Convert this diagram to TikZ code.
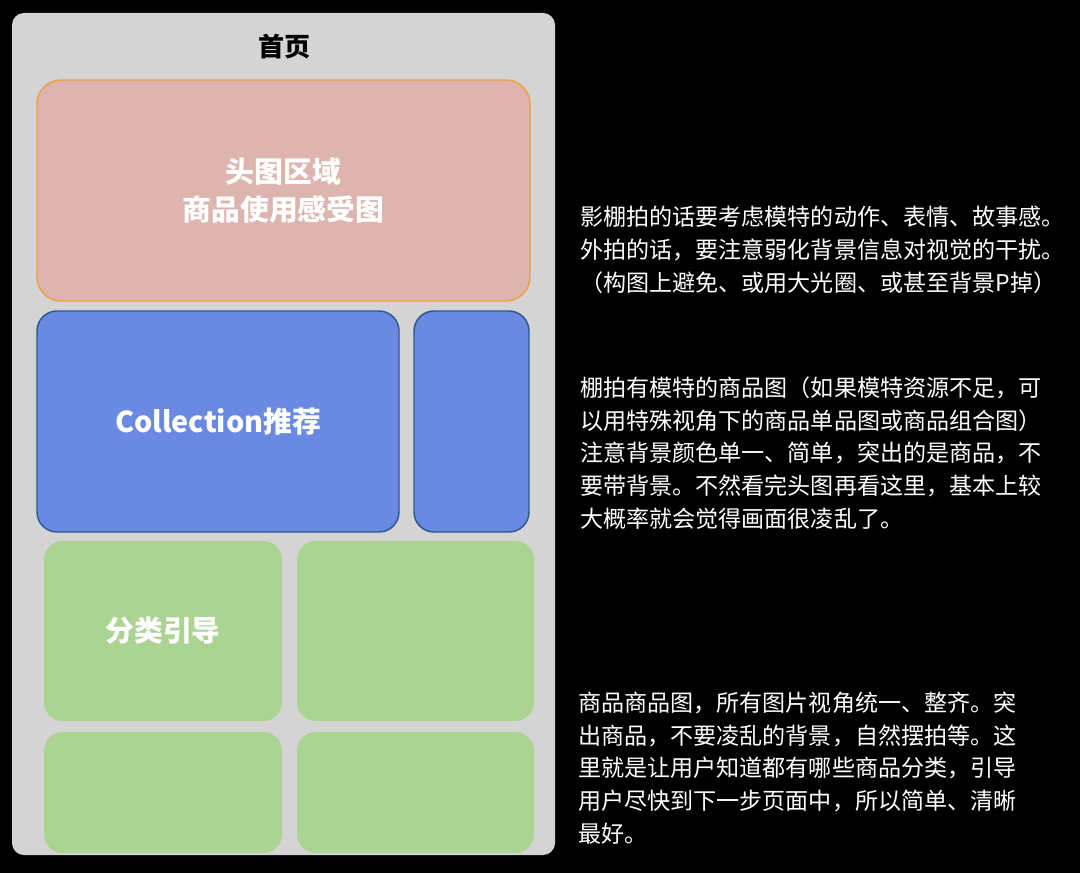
\documentclass[tikz,border=0pt]{standalone}
\usepackage{fontspec}
\setmainfont{Noto Sans CJK SC}
\usepackage{tikz}
\usetikzlibrary{positioning}
\definecolor{panelgrey}{HTML}{D4D4D4}
\definecolor{headfill}{HTML}{DDB5AE}
\definecolor{headline}{HTML}{F0A040}
\definecolor{collfill}{HTML}{6A89E2}
\definecolor{collline}{HTML}{2B5A8C}
\definecolor{catfill}{HTML}{ABD493}

\tikzset{
    block/.style={rectangle, inner sep=0pt, outer sep=0pt, text=white, font=\fontsize{21.6}{28}\selectfont\bfseries, align=center},
    headblock/.style={block, draw=headline, fill=headfill, line width=1.1pt, rounded corners=18pt},
    collblock/.style={block, draw=collline, fill=collfill, line width=1.1pt, rounded corners=15pt},
    catblock/.style={block, fill=catfill, rounded corners=14pt},
    note/.style={anchor=west, align=left, text=white, inner sep=0pt, font=\fontsize{17.3}{24.6}\selectfont}
}

\begin{document}
\begin{tikzpicture}[x=0.75pt, y=-0.75pt]
    % Background
    \fill[black] (0,0) rectangle (1080,873);
    \useasboundingbox (0,0) rectangle (1080,873);

    % Page
    \node[rectangle, fill=panelgrey, rounded corners=9pt, minimum width=407.25pt, minimum height=631.5pt, inner sep=0pt] (page) at (283.5,434) {};
    \node[font=\fontsize{19.5}{24}\selectfont\bfseries] (title) at (284,47) {首页};

    % Blocks
    \node[headblock, minimum width=369.75pt, minimum height=165.75pt] (head) at (283.5,190.5) {头图区域\\商品使用感受图};
    \node[collblock, minimum width=271.5pt, minimum height=165.75pt] (coll) at (218,421.5) {Collection推荐};
    \node[collblock, minimum width=86.25pt, minimum height=165.75pt] (collside) at (471.5,421.5) {};
    \node[catblock, minimum width=178.5pt, minimum height=135pt] (cat) at (163,631) {分类引导};
    \node[catblock, minimum width=177.75pt, minimum height=135pt] (catb) at (415.5,631) {};
    \node[catblock, minimum width=178.5pt, minimum height=90.75pt] (catc) at (163,792.5) {};
    \node[catblock, minimum width=177.75pt, minimum height=90.75pt] (catd) at (415.5,792.5) {};

    % Notes
    \node[note] (headnote) at (580,250) {影棚拍的话要考虑模特的动作、表情、故事感。\\外拍的话，要注意弱化背景信息对视觉的干扰。\\（构图上避免、或用大光圈、或甚至背景P掉）};
    \node[note] (collnote) at (580,453) {棚拍有模特的商品图（如果模特资源不足，可\\以用特殊视角下的商品单品图或商品组合图）\\注意背景颜色单一、简单，突出的是商品，不\\要带背景。不然看完头图再看这里，基本上较\\大概率就会觉得画面很凌乱了。};
    \node[note] (catnote) at (578,768) {商品商品图，所有图片视角统一、整齐。突\\出商品，不要凌乱的背景，自然摆拍等。这\\里就是让用户知道都有哪些商品分类，引导\\用户尽快到下一步页面中，所以简单、清晰\\最好。};
\end{tikzpicture}
\end{document}
